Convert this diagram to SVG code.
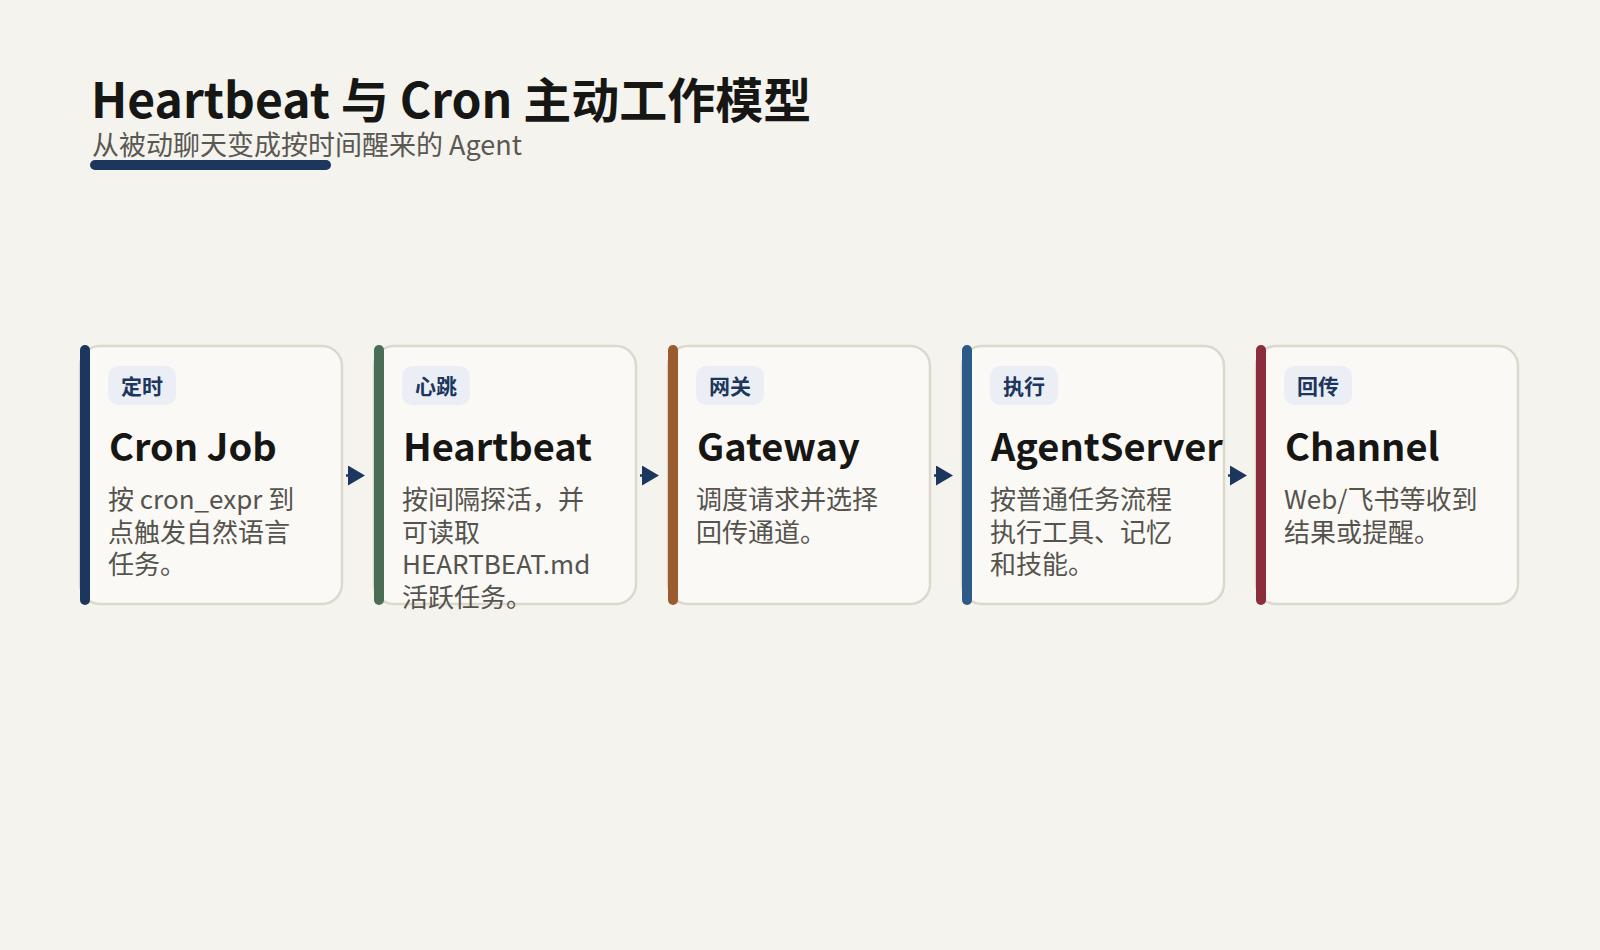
<svg xmlns="http://www.w3.org/2000/svg" width="1600" height="950" viewBox="0 0 1600 950">
<defs>
<style>
.t{font-family:"Noto Sans CJK SC","Noto Sans",sans-serif}
.title{font-size:48px;font-weight:700;fill:#161614}
.sub{font-size:27px;fill:#5a5853}
.card{fill:#faf9f5;stroke:#dcd8cc;stroke-width:2.5}
.pill{fill:#ebeff5}
.pt{font-size:21px;font-weight:700;fill:#1c365d;text-anchor:middle}
.h{font-size:38px;font-weight:700;fill:#161614}
.b{font-size:26px;fill:#55534e}
.conn line{stroke:#1c365d;stroke-width:2.5}
</style>
<marker id="ah" markerUnits="userSpaceOnUse" markerWidth="17" markerHeight="20" refX="1" refY="10" orient="auto">
<path d="M0,0 L17,10 L0,20 z" fill="#1c365d"/>
</marker>
</defs>
<rect width="1600" height="950" fill="#f4f3ee"/>
<g id="header">
<text class="t title" x="91" y="118">Heartbeat 与 Cron 主动工作模型</text>
<text class="t sub" x="92" y="155">从被动聊天变成按时间醒来的 Agent</text>
<rect x="90" y="160" width="241" height="10" rx="5" fill="#1c365d"/>
</g>
<g id="cron">
<rect class="card" x="80" y="346" width="262" height="258" rx="20"/>
<rect x="80" y="345" width="10" height="260" rx="5" fill="#1c365d"/>
<rect class="pill" x="108" y="366" width="68" height="39" rx="10"/>
<text class="t pt" x="142" y="394">定时</text>
<text class="t h" x="109" y="461">Cron Job</text>
<text class="t b" x="108" y="509">按 cron_expr 到</text>
<text class="t b" x="108" y="541.5">点触发自然语言</text>
<text class="t b" x="108" y="574">任务。</text>
</g>
<g id="heartbeat">
<rect class="card" x="374" y="346" width="262" height="258" rx="20"/>
<rect x="374" y="345" width="10" height="260" rx="5" fill="#4a6e55"/>
<rect class="pill" x="402" y="366" width="68" height="39" rx="10"/>
<text class="t pt" x="436" y="394">心跳</text>
<text class="t h" x="403" y="461">Heartbeat</text>
<text class="t b" x="402" y="509">按间隔探活，并</text>
<text class="t b" x="402" y="541.5">可读取</text>
<text class="t b" x="402" y="574">HEARTBEAT.md</text>
<text class="t b" x="402" y="606.5">活跃任务。</text>
</g>
<g id="gateway">
<rect class="card" x="668" y="346" width="262" height="258" rx="20"/>
<rect x="668" y="345" width="10" height="260" rx="5" fill="#9a5c2e"/>
<rect class="pill" x="696" y="366" width="68" height="39" rx="10"/>
<text class="t pt" x="730" y="394">网关</text>
<text class="t h" x="697" y="461">Gateway</text>
<text class="t b" x="696" y="509">调度请求并选择</text>
<text class="t b" x="696" y="541.5">回传通道。</text>
</g>
<g id="agentserver">
<rect class="card" x="962" y="346" width="262" height="258" rx="20"/>
<rect x="962" y="345" width="10" height="260" rx="5" fill="#2e5a8a"/>
<rect class="pill" x="990" y="366" width="68" height="39" rx="10"/>
<text class="t pt" x="1024" y="394">执行</text>
<text class="t h" x="991" y="461">AgentServer</text>
<text class="t b" x="990" y="509">按普通任务流程</text>
<text class="t b" x="990" y="541.5">执行工具、记忆</text>
<text class="t b" x="990" y="574">和技能。</text>
</g>
<g id="channel">
<rect class="card" x="1256" y="346" width="262" height="258" rx="20"/>
<rect x="1256" y="345" width="10" height="260" rx="5" fill="#8b2d3a"/>
<rect class="pill" x="1284" y="366" width="68" height="39" rx="10"/>
<text class="t pt" x="1318" y="394">回传</text>
<text class="t h" x="1285" y="461">Channel</text>
<text class="t b" x="1284" y="509">Web/飞书等收到</text>
<text class="t b" x="1284" y="541.5">结果或提醒。</text>
</g>
<g id="connectors" class="conn">
<line x1="346" y1="475.5" x2="349" y2="475.5" marker-end="url(#ah)"/>
<line x1="640" y1="475.5" x2="643" y2="475.5" marker-end="url(#ah)"/>
<line x1="934" y1="475.5" x2="937" y2="475.5" marker-end="url(#ah)"/>
<line x1="1228" y1="475.5" x2="1231" y2="475.5" marker-end="url(#ah)"/>
</g>
</svg>
